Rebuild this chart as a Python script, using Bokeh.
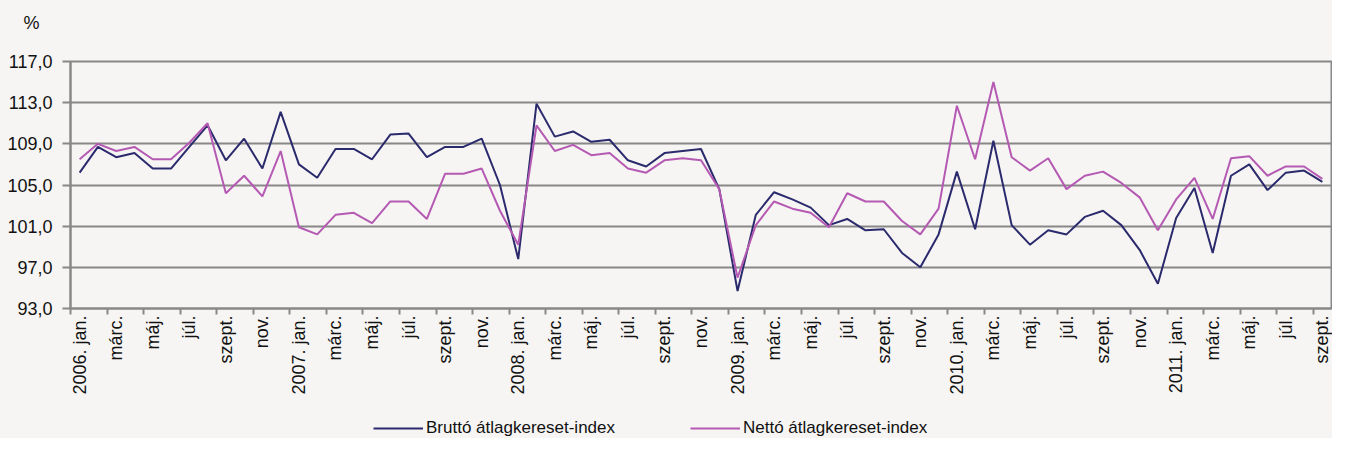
import math
from bokeh.plotting import figure
from bokeh.layouts import column
from bokeh.models import Range1d, FixedTicker, Legend, LegendItem, ColumnDataSource
from bokeh.embed import file_html
from bokeh.resources import INLINE

# ---- data -------------------------------------------------------------
months = list(range(69))  # 2006 jan .. 2011 szept

x_tick_labels = [
    "2006. jan.", "márc.", "máj.", "júl.", "szept.", "nov.",
    "2007. jan.", "márc.", "máj.", "júl.", "szept.", "nov.",
    "2008. jan.", "márc.", "máj.", "júl.", "szept.", "nov.",
    "2009. jan.", "márc.", "máj.", "júl.", "szept.", "nov.",
    "2010. jan.", "márc.", "máj.", "júl.", "szept.", "nov.",
    "2011. jan.", "márc.", "máj.", "júl.", "szept.",
]

brutto = [
    106.2, 108.7, 107.7, 108.1, 106.6, 106.6, 108.7, 110.8, 107.4, 109.5, 106.6, 112.1,
    107.0, 105.7, 108.5, 108.5, 107.5, 109.9, 110.0, 107.7, 108.7, 108.7, 109.5, 105.0,
    97.8, 112.9, 109.7, 110.2, 109.2, 109.4, 107.4, 106.8, 108.1, 108.3, 108.5, 104.6,
    94.7, 102.1, 104.3, 103.6, 102.8, 101.1, 101.7, 100.6, 100.7, 98.4, 97.0, 100.2,
    106.3, 100.7, 109.3, 101.1, 99.2, 100.6, 100.2, 101.9, 102.5, 101.1, 98.7, 95.4,
    101.8, 104.7, 98.4, 105.9, 107.0, 104.5, 106.2, 106.4, 105.3,
]

netto = [
    107.5, 109.0, 108.3, 108.7, 107.5, 107.5, 109.1, 111.0, 104.2, 105.9, 103.9, 108.3,
    100.9, 100.2, 102.1, 102.3, 101.3, 103.4, 103.4, 101.7, 106.1, 106.1, 106.6, 102.5,
    99.2, 110.8, 108.3, 108.9, 107.9, 108.1, 106.6, 106.2, 107.4, 107.6, 107.4, 104.6,
    96.0, 101.1, 103.4, 102.7, 102.3, 100.9, 104.2, 103.4, 103.4, 101.5, 100.2, 102.7,
    112.7, 107.5, 115.0, 107.7, 106.4, 107.6, 104.6, 105.9, 106.3, 105.2, 103.8, 100.6,
    103.6, 105.7, 101.7, 107.6, 107.8, 105.9, 106.8, 106.8, 105.6,
]

y_ticks = [93, 97, 101, 105, 109, 113, 117]
y_tick_labels = ["93,0", "97,0", "101,0", "105,0", "109,0", "113,0", "117,0"]

series_names = ["Bruttó átlagkereset-index", "Nettó átlagkereset-index"]
series_colors = ["#2b2a6d", "#b55ab3"]
unit_label = "%"

# ---- styling ----------------------------------------------------------
BG = "#f6f5f3"
GRID = "#888888"
FONT = "Liberation Sans"
TXT = "#111111"
W = 1332


def strip(height):
    f = figure(width=W, height=height, output_backend="svg", toolbar_location=None,
               min_border=0, x_axis_type=None, y_axis_type=None,
               x_range=Range1d(0, 1), y_range=Range1d(0, 1))
    f.background_fill_color = BG
    f.border_fill_color = BG
    f.outline_line_color = None
    f.xgrid.visible = False
    f.ygrid.visible = False
    return f


# ---- top strip: unit label (as title) ---------------------------------
p_top = strip(50)
p_top.title.text = unit_label
p_top.title.align = "left"
p_top.title.vertical_align = "top"
p_top.title.offset = -47
p_top.title.standoff = 24
p_top.title.text_font = FONT
p_top.title.text_font_size = "18px"
p_top.title.text_font_style = "normal"
p_top.title.text_color = TXT

# ---- main chart --------------------------------------------------------
p = figure(width=W, height=350, output_backend="svg", toolbar_location=None,
           x_range=Range1d(-0.5, 68.5), y_range=Range1d(93, 117),
           min_border_left=70, min_border_right=1, min_border_top=11,
           min_border_bottom=92)
p.background_fill_color = BG
p.border_fill_color = BG
p.outline_line_color = GRID
p.outline_line_width = 2

src = ColumnDataSource(dict(x=months, b=brutto, n=netto))
p.line("x", "b", source=src, line_color=series_colors[0], line_width=2)
p.line("x", "n", source=src, line_color=series_colors[1], line_width=2)

major_x = list(range(0, 69, 2))
minor_x = [i - 0.5 for i in range(0, 70, 2)]
p.xaxis.ticker = FixedTicker(ticks=major_x, minor_ticks=minor_x)
p.xaxis.major_label_overrides = {t: lab for t, lab in zip(major_x, x_tick_labels)}
p.xaxis.major_label_orientation = math.pi / 2
p.xaxis.major_tick_line_color = None
p.xaxis.major_tick_out = 6
p.xaxis.major_tick_in = 0
p.xaxis.minor_tick_out = 6
p.xaxis.minor_tick_in = 0
p.xaxis.minor_tick_line_color = GRID
p.xaxis.minor_tick_line_width = 2
p.xaxis.axis_line_color = GRID
p.xaxis.axis_line_width = 2
p.xaxis.major_label_standoff = 1
p.xaxis.major_label_text_font = FONT
p.xaxis.major_label_text_font_size = "18px"
p.xaxis.major_label_text_color = TXT
p.xgrid.grid_line_color = None

p.yaxis.ticker = FixedTicker(ticks=y_ticks, minor_ticks=[])
p.yaxis.major_label_overrides = {t: lab for t, lab in zip(y_ticks, y_tick_labels)}
p.yaxis.major_tick_out = 8
p.yaxis.major_tick_in = 0
p.yaxis.major_tick_line_color = GRID
p.yaxis.major_tick_line_width = 2
p.yaxis.axis_line_color = GRID
p.yaxis.axis_line_width = 2
p.yaxis.major_label_standoff = 10
p.yaxis.major_label_text_font = FONT
p.yaxis.major_label_text_font_size = "18px"
p.yaxis.major_label_text_color = TXT
p.ygrid.ticker = FixedTicker(ticks=y_ticks)
p.ygrid.grid_line_color = GRID
p.ygrid.grid_line_width = 2

# ---- bottom strip: legend ---------------------------------------------
p_leg = strip(38)
lb = p_leg.line("x", "b", source=src, line_color=series_colors[0], line_width=2)
ln = p_leg.line("x", "n", source=src, line_color=series_colors[1], line_width=2)
lg = Legend(items=[LegendItem(label=series_names[0], renderers=[lb]),
                   LegendItem(label=series_names[1], renderers=[ln])],
            location=(303, 0), orientation="horizontal",
            glyph_width=50, glyph_height=20, label_standoff=3,
            padding=0, margin=0, spacing=75,
            border_line_color=None, background_fill_alpha=0,
            label_text_font=FONT, label_text_font_size="17px",
            label_text_color=TXT)
p_leg.add_layout(lg, "center")

layout = column(p_top, p, p_leg, spacing=0)
layout.styles = {"background-color": BG}
open("out.html", "w").write(file_html(layout, INLINE))
